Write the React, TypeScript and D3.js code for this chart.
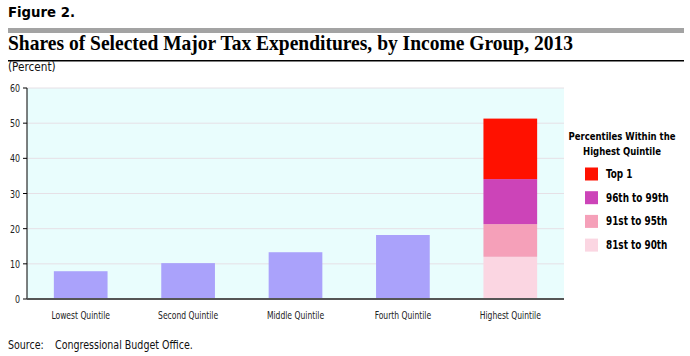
import React from "react";
import * as d3 from "d3";

const categories = ["Lowest Quintile", "Second Quintile", "Middle Quintile", "Fourth Quintile", "Highest Quintile"];
const quintileValues = [7.9, 10.2, 13.3, 18.2, 0];
const topSegments = ["81st to 90th", "91st to 95th", "96th to 99th", "Top 1"];
const topSegmentValues = [12.0, 9.3, 12.8, 17.2];
const segmentColors = ["#fbd6e2", "#f5a0b9", "#cc44b8", "#ff1100"];
const yTicks = [0, 10, 20, 30, 40, 50, 60];

const W = 690, H = 356;
const plot = { left: 27, right: 564, top: 88, bottom: 299 };
const SANS = "'DejaVu Sans Condensed', 'DejaVu Sans', sans-serif";

function CText({ x, y, sx = 0.85, anchor = "start", size = 10, weight = "normal", fill = "#222", children }: any) {
  return (
    <g transform={`translate(${x},${y}) scale(${sx},1)`}>
      <text x={0} y={0} textAnchor={anchor} fontFamily={SANS} fontSize={size} fontWeight={weight} fill={fill}>{children}</text>
    </g>
  );
}

export default function App() {
  const x = d3.scaleBand().domain(categories).range([plot.left, plot.right]).paddingInner(0.5).paddingOuter(0.25);
  const y = d3.scaleLinear().domain([0, 60]).range([plot.bottom, plot.top]);
  const stacked = d3.stack<any>().keys(topSegments.map((_, i) => String(i))).value((d: any, k: any) => d[+k])([topSegmentValues] as any);
  return (
    <div style={{ position: "absolute", left: 0, top: 0 }}>
      <svg width={W} height={H} style={{ display: "block", background: "#fff" }}>
        <text x={8} y={17} fontFamily="'DejaVu Sans', sans-serif" fontWeight="900" fontSize={14} textLength={67} lengthAdjust="spacingAndGlyphs">Figure 2.</text>
        <rect x={8} y={28} width={676} height={5} fill="#a3a3a3" />
        <text x={8} y={50} fontFamily="'Liberation Serif', serif" fontWeight="bold" fontSize={22} textLength={565} lengthAdjust="spacingAndGlyphs">Shares of Selected Major Tax Expenditures, by Income Group, 2013</text>
        <rect x={8} y={60} width={676} height={1.5} fill="#000" />
        <CText x={8} y={71} size={13} sx={0.9} fill="#111">(Percent)</CText>

        <rect x={plot.left} y={plot.top} width={plot.right - plot.left} height={plot.bottom - plot.top} fill="#e9fdfd" />
        {yTicks.slice(1).map(t => (
          <line key={t} x1={plot.left} x2={plot.right} y1={y(t)} y2={y(t)} stroke="#e6e0e6" strokeWidth={1} />
        ))}
        {categories.map((c, i) => i < 4 ? (
          <rect key={c} x={x(c)} y={y(quintileValues[i])} width={x.bandwidth()} height={y(0) - y(quintileValues[i])} fill="#aaa2fb" />
        ) : null)}
        {stacked.map((s: any, i: number) => (
          <rect key={i} x={x(categories[4])} y={y(s[0][1])} width={x.bandwidth()} height={y(s[0][0]) - y(s[0][1])} fill={segmentColors[i]} />
        ))}
        <line x1={plot.left} x2={plot.left} y1={plot.top} y2={plot.bottom} stroke="#000" strokeWidth={1} />
        <line x1={plot.left} x2={plot.right} y1={plot.bottom} y2={plot.bottom} stroke="#555" strokeWidth={2} />
        {yTicks.map(t => (
          <g key={t}>
            <line x1={plot.left - 4} x2={plot.left} y1={y(t)} y2={y(t)} stroke="#000" />
            <CText x={20} y={y(t) + 4} anchor="end" size={11} sx={0.8}>{t}</CText>
          </g>
        ))}
        {categories.map(c => (
          <CText key={c} x={(x(c) as number) + x.bandwidth() / 2} y={319} anchor="middle" size={11} sx={0.77}>{c}</CText>
        ))}

        <CText x={622} y={140} anchor="middle" size={11} weight="bold" sx={0.86} fill="#000">Percentiles Within the</CText>
        <CText x={622} y={155} anchor="middle" size={11} weight="bold" sx={0.86} fill="#000">Highest Quintile</CText>
        {topSegments.slice().reverse().map((s, i) => {
          const idx = topSegments.length - 1 - i;
          const cy = 174 + i * 23.7;
          return (
            <g key={s}>
              <rect x={585} y={cy - 6.5} width={13} height={13} fill={segmentColors[idx]} />
              <CText x={606} y={cy + 4} size={11.5} weight="bold" sx={0.86} fill="#000">{s}</CText>
            </g>
          );
        })}

        <CText x={8} y={349} size={12} sx={0.88} fill="#111">Source:</CText>
        <CText x={55} y={349} size={12} sx={0.88} fill="#111">Congressional Budget Office.</CText>
      </svg>
    </div>
  );
}
